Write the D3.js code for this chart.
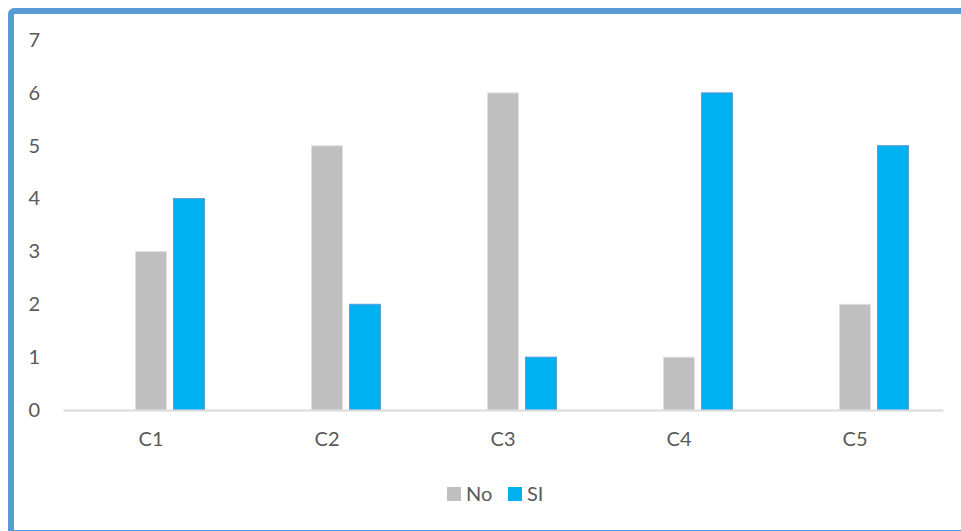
<!DOCTYPE html>
<html>
<head>
<meta charset="utf-8">
<script src="https://cdn.jsdelivr.net/npm/d3@7"></script>
<style>
  body { margin: 0; background: #fff; }
  svg text { font-family: Lato, "Open Sans", sans-serif; fill: #595959; }
</style>
</head>
<body>
<div id="chart"></div>
<script>
const categories = ["C1", "C2", "C3", "C4", "C5"];
const seriesNames = ["No", "SI"];
const noValues = [3, 5, 6, 1, 2];
const siValues = [4, 2, 1, 6, 5];
const yTicks = [0, 1, 2, 3, 4, 5, 6, 7];
const colors = { "No": "#bfbfbf", "SI": "#00b0f0" };

const width = 961, height = 531;
const margin = ({top: 40, right: 18, bottom: 121, left: 63});
const fontSize = 20;

const x = d3.scaleBand()
    .domain(categories)
    .range([margin.left, width - margin.right]);

// excel leaves an empty slot in front of the first series
const x1 = d3.scaleBand()
    .domain(["", ...seriesNames])
    .range([-53.5, 53.5])
    .paddingInner(0.184);

const y = d3.scaleLinear()
    .domain([0, 7])
    .range([height - margin.bottom, margin.top]);

const rows = [];
categories.forEach((c, i) => {
  rows.push({cat: c, series: "No", value: noValues[i]});
  rows.push({cat: c, series: "SI", value: siValues[i]});
});

const svg = d3.select("#chart").append("svg")
    .attr("width", width).attr("height", height);

// frame
svg.append("rect")
    .attr("x", 11).attr("y", 11)
    .attr("width", 1000).attr("height", 522)
    .attr("rx", 3)
    .attr("fill", "none")
    .attr("stroke", "#5b9bd5")
    .attr("stroke-width", 6);

// y axis labels
const yAxis = d3.axisLeft(y).tickValues(yTicks).tickFormat(d3.format("d")).tickSize(0).tickPadding(23);
svg.append("g")
    .attr("transform", `translate(${margin.left},0)`)
    .call(yAxis)
    .call(g => g.select(".domain").remove())
    .call(g => g.selectAll("text").attr("font-size", fontSize).attr("fill", "#595959")
      .style("font-family", "Lato, sans-serif"));

// bars
svg.append("g")
  .selectAll("rect")
  .data(rows)
  .join("rect")
    .attr("x", d => x(d.cat) + x.bandwidth() / 2 + x1(d.series))
    .attr("y", d => y(d.value))
    .attr("width", x1.bandwidth())
    .attr("height", d => y(0) - y(d.value))
    .attr("fill", d => colors[d.series])
    .attr("stroke", d => d.series === "SI" ? "#5b9bd5" : "#e0e0e0")
    .attr("stroke-width", 1);

// x axis
const xAxis = d3.axisBottom(x).tickSize(0).tickPadding(22);
svg.append("g")
    .attr("transform", `translate(0,${y(0)})`)
    .call(xAxis)
    .call(g => g.select(".domain").attr("stroke", "#d9d9d9").attr("stroke-width", 2))
    .call(g => g.selectAll("text").attr("font-size", fontSize).attr("fill", "#595959")
      .style("font-family", "Lato, sans-serif"));

// legend
const legend = svg.append("g");
const legendX = [447, 508];
seriesNames.forEach((s, i) => {
  legend.append("rect")
    .attr("x", legendX[i]).attr("y", 487)
    .attr("width", 14).attr("height", 14)
    .attr("fill", colors[s]);
  legend.append("text")
    .attr("x", legendX[i] + 19).attr("y", 501)
    .attr("font-size", fontSize)
    .text(s);
});
</script>
</body>
</html>
